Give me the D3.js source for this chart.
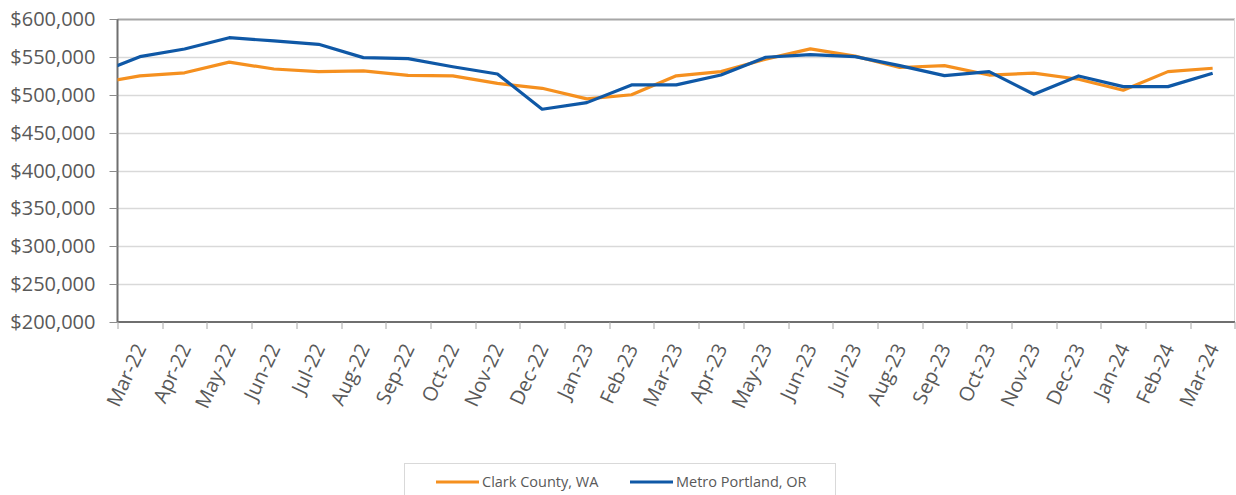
<!DOCTYPE html>
<html>
<head>
<meta charset="utf-8">
<script src="https://cdn.jsdelivr.net/npm/d3@7"></script>
<style>
  body { margin: 0; background: #fff; }
  text { font-family: "Open Sans", sans-serif; fill: #595959; }
</style>
</head>
<body>
<div id="graph"></div>
<script>
/*global d3 */

// la valeur "Feb-22" ne sert qu'au premier segment, coupé par le bord du graphe
var mois_avant = "Feb-22";
var mois = ["Mar-22", "Apr-22", "May-22", "Jun-22", "Jul-22", "Aug-22", "Sep-22", "Oct-22", "Nov-22",
    "Dec-22", "Jan-23", "Feb-23", "Mar-23", "Apr-23", "May-23", "Jun-23", "Jul-23", "Aug-23",
    "Sep-23", "Oct-23", "Nov-23", "Dec-23", "Jan-24", "Feb-24", "Mar-24"];

var clark = [514500,
    525000, 529000, 543000, 534000, 530500, 531500, 525500, 525000, 515000,
    508500, 494500, 500000, 525000, 530500, 547000, 560500, 551000, 536000,
    538500, 526000, 528500, 520500, 506000, 530500, 535000];

var portland = [527000,
    550300, 560400, 575300, 571000, 566600, 549000, 547600, 537000, 527400,
    480900, 489600, 513000, 513000, 526000, 549500, 553000, 550300, 538400,
    525200, 530500, 500600, 524800, 510700, 510700, 528400];

var ticks_y = [200000, 250000, 300000, 350000, 400000, 450000, 500000, 550000, 600000];

var series = [
    {nom: "Clark County, WA", valeurs: clark, couleur: "#F5901F"},
    {nom: "Metro Portland, OR", valeurs: portland, couleur: "#0F58A6"}
];

function dessin() {
    "use strict";
    var margin = {top: 19, right: 1, bottom: 173, left: 117.5},
        W = 1236, H = 495,
        width = W - margin.left - margin.right,
        height = H - margin.top - margin.bottom,
        tous_mois = [mois_avant].concat(mois),
        pas = width / mois.length,

        root = d3.select("#graph")
            .append("svg")
                .attr("width", W)
                .attr("height", H),
        svg = root.append("g")
                .attr("transform", "translate(" + margin.left + "," + margin.top + ")"),

        x = d3.scaleBand()
            .domain(tous_mois)
            .range([-pas, width])
            .paddingInner(0).paddingOuter(0),

        y = d3.scaleLinear()
            .domain([200000, 600000])
            .range([height, 0]),

        fmt = d3.format("$,");

    root.append("defs").append("clipPath")
        .attr("id", "clip")
        .append("rect")
            .attr("x", 0).attr("y", -10)
            .attr("width", width).attr("height", height + 20);

    // grille
    svg.selectAll(".grille")
        .data(ticks_y.slice(1))
        .enter()
        .append("line")
        .attr("x1", 0)
        .attr("x2", width)
        .attr("y1", function (d) { return Math.round(y(d)) + 0.5; })
        .attr("y2", function (d) { return Math.round(y(d)) + 0.5; })
        .style("stroke", function (d) { return d === 600000 ? "#a6a6a6" : "#d9d9d9"; })
        .style("stroke-width", function (d) { return d === 600000 ? 2 : 1.3; });

    // bord droit
    svg.append("line")
        .attr("x1", width - 0.5).attr("x2", width - 0.5)
        .attr("y1", 0).attr("y2", height)
        .style("stroke", "#d9d9d9")
        .style("stroke-width", 1);

    // axe y
    svg.append("line")
        .attr("x1", 0).attr("x2", 0)
        .attr("y1", 0).attr("y2", height)
        .style("stroke", "#6f6f6f")
        .style("stroke-width", 2);
    svg.selectAll(".tick-y")
        .data(ticks_y)
        .enter()
        .append("line")
        .attr("x1", -8).attr("x2", 0)
        .attr("y1", function (d) { return Math.round(y(d)) + 0.5; })
        .attr("y2", function (d) { return Math.round(y(d)) + 0.5; })
        .style("stroke", "#8c8c8c")
        .style("stroke-width", 1);
    svg.selectAll(".label-y")
        .data(ticks_y)
        .enter()
        .append("text")
        .attr("x", -22)
        .attr("y", function (d) { return y(d); })
        .attr("dy", "0.35em")
        .style("text-anchor", "end")
        .style("font-size", "20px")
        .text(function (d) { return fmt(d); });

    // axe x
    svg.append("line")
        .attr("x1", 0).attr("x2", width)
        .attr("y1", height).attr("y2", height)
        .style("stroke", "#6f6f6f")
        .style("stroke-width", 2);
    svg.selectAll(".tick-x")
        .data(mois.concat(["fin"]))
        .enter()
        .append("line")
        .attr("x1", function (d) { return d === "fin" ? width : Math.round(x(d)) + 0.5; })
        .attr("x2", function (d) { return d === "fin" ? width : Math.round(x(d)) + 0.5; })
        .attr("y1", height)
        .attr("y2", height + 7)
        .style("stroke", "#a6a6a6")
        .style("stroke-width", 1);
    svg.selectAll(".label-x")
        .data(mois)
        .enter()
        .append("text")
        .attr("transform", function (d) {
            return "translate(" + (x(d) + x.bandwidth() / 2 + 7) + "," + (height + 26) + ") rotate(-65)";
        })
        .style("text-anchor", "end")
        .style("font-size", "20px")
        .text(function (d) { return d; });

    // courbes
    var ligne = d3.line()
        .x(function (d, i) { return x(tous_mois[i]) + x.bandwidth() / 2; })
        .y(function (d) { return y(d); });

    svg.append("g")
        .attr("clip-path", "url(#clip)")
        .selectAll(".serie")
        .data(series)
        .enter()
        .append("path")
        .attr("fill", "none")
        .attr("stroke", function (d) { return d.couleur; })
        .attr("stroke-width", 3.2)
        .attr("stroke-linejoin", "round")
        .attr("d", function (d) { return ligne(d.valeurs); });

    // légende
    var leg = root.append("g").attr("transform", "translate(404.5,463.5)");
    leg.append("rect")
        .attr("width", 431)
        .attr("height", 50)
        .style("fill", "#fff")
        .style("stroke", "#d9d9d9");
    var item = leg.selectAll(".item")
        .data(series)
        .enter()
        .append("g")
        .attr("transform", function (d, i) { return "translate(" + (31.5 + i * 194) + ",18.5)"; });
    item.append("line")
        .attr("x1", 0).attr("x2", 43)
        .style("stroke", function (d) { return d.couleur; })
        .style("stroke-width", 3.2);
    item.append("text")
        .attr("x", 46)
        .attr("dy", "0.35em")
        .style("font-size", "14.5px")
        .text(function (d) { return d.nom; });
}

dessin();
</script>
</body>
</html>
